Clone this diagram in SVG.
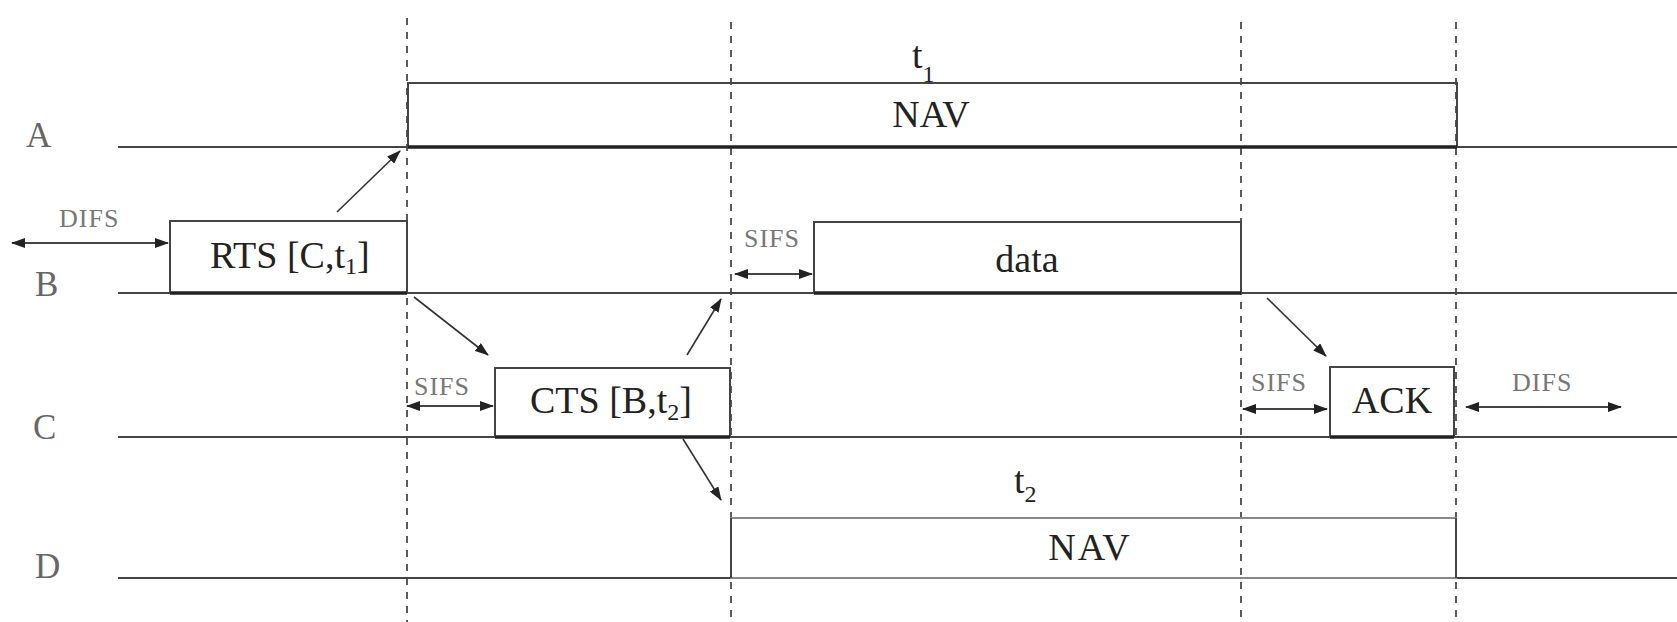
<svg xmlns="http://www.w3.org/2000/svg" width="1677" height="622" viewBox="0 0 1677 622">
<defs>
<marker id="ah" viewBox="0 0 14 10" refX="13" refY="5" markerWidth="14" markerHeight="10" markerUnits="userSpaceOnUse" orient="auto-start-reverse">
<path d="M0,0 L14,5 L0,10 Z" fill="#222"/>
</marker>
</defs>
<style>
.axis{stroke:#444;stroke-width:2;fill:none}
.frame{stroke:#444;stroke-width:2;fill:none}
.light{stroke:#888;stroke-width:2;fill:none}
.base{stroke:#222;stroke-width:3.5;fill:none}
.dash{stroke:#333;stroke-width:1.6;stroke-dasharray:7 7;fill:none}
.conn{stroke:#333;stroke-width:1.6;fill:none;marker-end:url(#ah)}
.dbl{stroke:#444;stroke-width:2;fill:none;marker-start:url(#ah);marker-end:url(#ah)}
.big{font-family:"Liberation Serif",serif;font-size:38px;fill:#222}
.lab{font-family:"Liberation Serif",serif;font-size:35px;fill:#666}
.small{font-family:"Liberation Serif",serif;font-size:26px;fill:#777;letter-spacing:1px}
.sub{font-size:24px}
</style>

<g id="dashes">
<line class="dash" x1="407" y1="18" x2="407" y2="622"/>
<line class="dash" x1="731" y1="22" x2="731" y2="622"/>
<line class="dash" x1="1241" y1="22" x2="1241" y2="622"/>
<line class="dash" x1="1456" y1="22" x2="1456" y2="622"/>
</g>

<g id="rowA">
<text class="lab" x="26" y="147">A</text>
<line class="axis" x1="118" y1="147" x2="1677" y2="147"/>
</g>
<g id="navA">
<path class="frame" d="M408,147 V83 H1457 V147"/>
<line class="base" x1="408" y1="147" x2="1457" y2="147"/>
<text class="big" x="931" y="127" text-anchor="middle" font-size="36">NAV</text>
<text class="big" x="912" y="68" font-size="42">t<tspan class="sub" dy="14">1</tspan></text>
</g>

<g id="rowB">
<text class="lab" x="35" y="296">B</text>
<line class="axis" x1="118" y1="293" x2="1677" y2="293"/>
</g>
<g id="rts">
<path class="frame" d="M170,293 V221 H407 V293"/>
<line class="base" x1="170" y1="293" x2="407" y2="293"/>
<text class="big" x="210" y="268">RTS [C,t<tspan class="sub" dy="6">1</tspan><tspan dy="-6">]</tspan></text>
</g>
<g id="difsB">
<text class="small" x="59" y="227">DIFS</text>
<line class="dbl" x1="12" y1="243" x2="168" y2="243"/>
</g>
<g id="sifsB">
<text class="small" x="744" y="247">SIFS</text>
<line class="dbl" x1="735" y1="274" x2="812" y2="274"/>
</g>
<g id="data">
<path class="frame" d="M814,293 V222 H1241 V293"/>
<line class="base" x1="814" y1="293" x2="1241" y2="293"/>
<text class="big" x="1027" y="272" text-anchor="middle" font-size="40">data</text>
</g>

<g id="rowC">
<text class="lab" x="33" y="439">C</text>
<line class="axis" x1="118" y1="437" x2="1677" y2="437"/>
</g>
<g id="sifsC">
<text class="small" x="414" y="395">SIFS</text>
<line class="dbl" x1="407" y1="406" x2="493" y2="406"/>
</g>
<g id="cts">
<path class="frame" d="M495,437 V368 H730 V437"/>
<line class="base" x1="495" y1="437" x2="730" y2="437"/>
<text class="big" x="530" y="413" font-size="39">CTS [B,t<tspan class="sub" dy="7">2</tspan><tspan dy="-7">]</tspan></text>
</g>
<g id="sifsC2">
<text class="small" x="1251" y="391">SIFS</text>
<line class="dbl" x1="1243" y1="409" x2="1327" y2="409"/>
</g>
<g id="ack">
<path class="frame" d="M1330,437 V367 H1454 V437"/>
<line class="base" x1="1330" y1="437" x2="1454" y2="437"/>
<text class="big" x="1392" y="413" text-anchor="middle">ACK</text>
</g>
<g id="difsC">
<text class="small" x="1512" y="391">DIFS</text>
<line class="dbl" x1="1466" y1="407" x2="1621" y2="407"/>
</g>

<g id="rowD">
<text class="lab" x="35" y="578">D</text>
<line class="axis" x1="118" y1="578" x2="731" y2="578"/>
<line class="axis" x1="1456" y1="578" x2="1677" y2="578"/>
</g>
<g id="navD">
<path class="light" d="M731,578 V518 H1456 V578 Z"/>
<line class="axis" x1="731" y1="518" x2="731" y2="578"/>
<line class="axis" x1="1456" y1="518" x2="1456" y2="578"/>
<text class="big" x="1090" y="560" text-anchor="middle" font-size="35" fill="#444" letter-spacing="2">NAV</text>
<text class="big" x="1014" y="493" font-size="40">t<tspan class="sub" dy="9">2</tspan></text>
</g>

<g id="connectors">
<line class="conn" x1="337" y1="212" x2="400" y2="151"/>
<line class="conn" x1="414" y1="297" x2="488" y2="355"/>
<line class="conn" x1="687" y1="355" x2="721" y2="299"/>
<line class="conn" x1="683" y1="439" x2="721" y2="500"/>
<line class="conn" x1="1267" y1="298" x2="1326" y2="356"/>
</g>
</svg>
